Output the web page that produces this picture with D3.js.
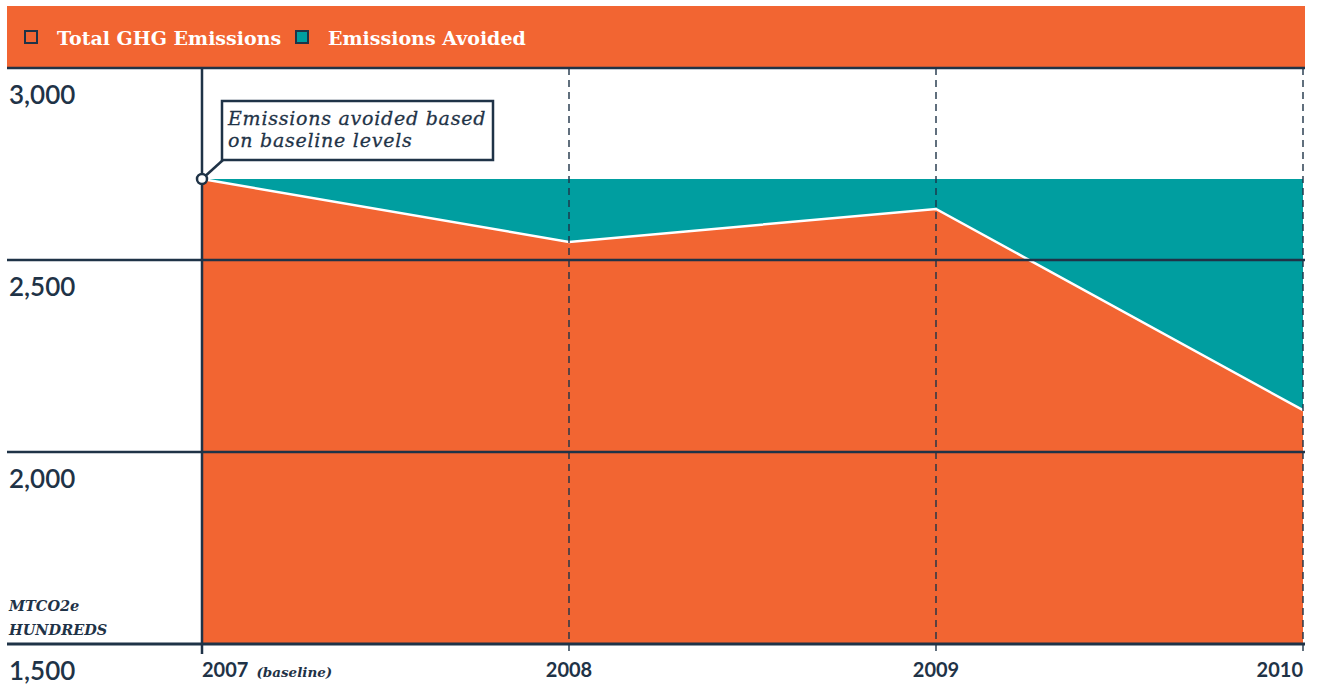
<!DOCTYPE html>
<html>
<head>
<meta charset="utf-8">
<script src="https://cdn.jsdelivr.net/npm/d3@7"></script>
<style>
  html, body { margin: 0; padding: 0; background: #fff; }
  svg { display: block; }
</style>
</head>
<body>
<svg id="chart" width="1317" height="685"></svg>
<script>
// Emissions data (MTCO2e, hundreds)
const years = [2007, 2008, 2009, 2010];
const totalEmissions = [2711, 2547, 2633, 2109];
const baselineLevel = 2711;
const yTicks = [3000, 2500, 2000, 1500];
const legendLabels = ["Total GHG Emissions", "Emissions Avoided"];

const ORANGE = "#F26532";
const TEAL = "#009EA0";
const DARK = "#1F3347";

const svg = d3.select("#chart");
const plotLeft = 202, plotRight = 1303, plotTop = 68, plotBottom = 644;

const x = d3.scaleLinear().domain([2007, 2010]).range([plotLeft, plotRight]);
const y = d3.scaleLinear().domain([1500, 3000]).range([plotBottom, plotTop]);

const rows = years.map((yr, i) => ({ year: yr, value: totalEmissions[i] }));

// Header bar with legend
svg.append("rect").attr("x", 7).attr("y", 6).attr("width", 1298).attr("height", 62).attr("fill", ORANGE);

const legend = svg.append("g").attr("font-family", "'DejaVu Serif', serif").attr("font-weight", "bold");
const legendItems = [
  { label: legendLabels[0], fill: "none", x: 25 },
  { label: legendLabels[1], fill: TEAL, x: 296 }
];
legendItems.forEach(d => {
  legend.append("rect").attr("x", d.x).attr("y", 31).attr("width", 12).attr("height", 12)
    .attr("fill", d.fill).attr("stroke", DARK).attr("stroke-width", 2);
  legend.append("text").attr("x", d.x + 32).attr("y", 45).attr("fill", "#fff")
    .attr("font-size", 19).text(d.label);
});

// Areas: avoided (teal) between baseline and total, total (orange) down to axis floor
svg.append("path").datum(rows)
  .attr("fill", TEAL)
  .attr("d", d3.area().x(d => x(d.year)).y0(y(baselineLevel)).y1(d => y(d.value)));

svg.append("path").datum(rows)
  .attr("fill", ORANGE)
  .attr("d", d3.area().x(d => x(d.year)).y0(y(1500)).y1(d => y(d.value)));

svg.append("path").datum(rows)
  .attr("fill", "none").attr("stroke", "#fff").attr("stroke-width", 2.5)
  .attr("d", d3.line().x(d => x(d.year)).y(d => y(d.value)));

// Horizontal gridlines
svg.append("g").selectAll("line").data(yTicks).join("line")
  .attr("x1", 7).attr("x2", 1305)
  .attr("y1", d => y(d)).attr("y2", d => y(d))
  .attr("stroke", DARK).attr("stroke-width", d => d === 1500 ? 3 : 2.5);

// Vertical year lines
svg.append("g").selectAll("line").data(years).join("line")
  .attr("x1", d => x(d)).attr("x2", d => x(d))
  .attr("y1", plotTop).attr("y2", 654)
  .attr("stroke", DARK)
  .attr("stroke-width", d => d === 2007 ? 2.5 : 1.4)
  .attr("stroke-dasharray", d => d === 2007 ? null : "7,5");

// Y tick labels
svg.append("g").selectAll("text").data(yTicks).join("text")
  .attr("x", 9).attr("y", d => y(d) + 36)
  .attr("font-family", "Lato, sans-serif").attr("font-size", 26).attr("font-weight", 600)
  .attr("fill", DARK)
  .text(d => d3.format(",")(d));

// Units label
const units = svg.append("text").attr("font-family", "'DejaVu Serif', serif")
  .attr("font-style", "italic").attr("font-weight", "bold").attr("font-size", 14.5).attr("fill", DARK);
units.append("tspan").attr("x", 9).attr("y", 611).text("MTCO2e");
units.append("tspan").attr("x", 9).attr("y", 635).text("HUNDREDS");

// X labels
const xl = svg.append("g").attr("font-family", "Lato, sans-serif").attr("fill", DARK);
years.forEach((yr, i) => {
  const t = xl.append("text").attr("x", x(yr)).attr("y", 677)
    .attr("font-size", 20).attr("font-weight", 700)
    .attr("text-anchor", i === 0 ? "start" : (i === years.length - 1 ? "end" : "middle"))
    .text(yr);
  if (i === 0) {
    t.append("tspan").attr("font-size", 13.5).attr("font-style", "italic").attr("font-family", "'DejaVu Serif', serif")
      .attr("font-weight", "bold").attr("dx", 8).text("(baseline)");
  }
});

// Annotation
const ax = x(2007), ay = y(baselineLevel);
svg.append("line").attr("x1", ax).attr("y1", ay).attr("x2", 223).attr("y2", 160)
  .attr("stroke", DARK).attr("stroke-width", 2.5);
svg.append("rect").attr("x", 222).attr("y", 101).attr("width", 271).attr("height", 59)
  .attr("fill", "#fff").attr("stroke", DARK).attr("stroke-width", 2.5);
const noteLines = ["Emissions avoided based", "on baseline levels"];
svg.append("g").selectAll("text").data(noteLines).join("text")
  .attr("x", 228).attr("y", (d, i) => 125 + i * 22)
  .attr("font-family", "'DejaVu Serif', serif").attr("font-style", "italic")
  .attr("font-size", 19).attr("letter-spacing", 0.75).attr("fill", DARK)
  .attr("stroke", DARK).attr("stroke-width", 0.3)
  .text(d => d);
svg.append("circle").attr("cx", ax).attr("cy", ay).attr("r", 5)
  .attr("fill", "#fff").attr("stroke", DARK).attr("stroke-width", 2.5);
</script>
</body>
</html>
